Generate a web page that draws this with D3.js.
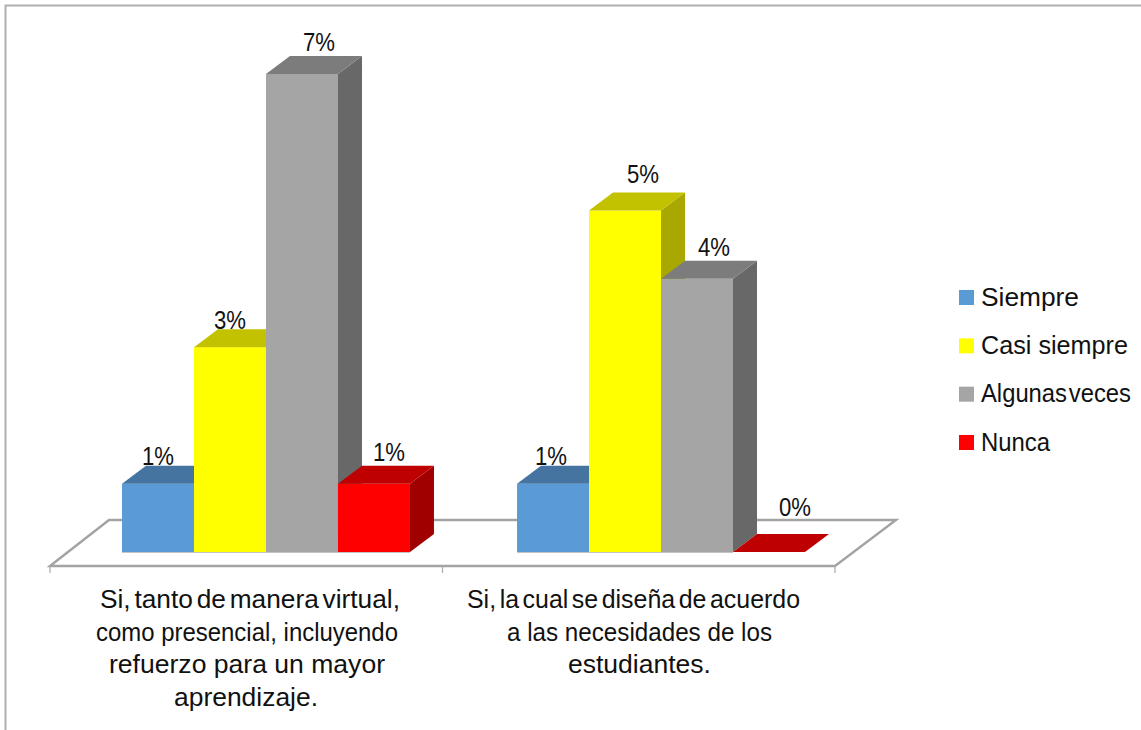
<!DOCTYPE html>
<html><head><meta charset="utf-8">
<script src="https://cdnjs.cloudflare.com/ajax/libs/d3/7.8.5/d3.min.js"></script>
<style>html,body{margin:0;padding:0;background:#fff}svg{display:block}text{font-family:"Liberation Sans",Arial,sans-serif;fill:#111}</style>
</head><body><script>
const categories = ["Si, tanto de manera virtual, como presencial, incluyendo refuerzo para un mayor aprendizaje.", "Si, la cual se diseña de acuerdo a las necesidades de los estudiantes."];
const seriesNames = ["Siempre", "Casi siempre", "Algunas veces", "Nunca"];
const group1Values = [1, 3, 7, 1];
const group2Values = [1, 5, 4, 0];
const seriesValues = [group1Values, group2Values];
const categoryLines = [
  ["Si, tanto de manera virtual,", "como presencial, incluyendo", "refuerzo para un mayor", "aprendizaje."],
  ["Si, la cual se diseña de acuerdo", "a las necesidades de los", "estudiantes."]
];
const frontColors = ["#5b9bd5", "#ffff00", "#a5a5a5", "#ff0000"];
const topColors = ["#44749f", "#c2c200", "#7c7c7c", "#bf0000"];
const sideColors = ["#3b6690", "#a8a800", "#686868", "#a00000"];

// layout tweaks (pixels), kept apart from the data
const lineCenters = [[250, 247, 247, 246], [633.5, 639.5, 639.5]];
const lineWidths = [[300, 302, 276, 144], [333, 265, 143]];
const lineWordSpacing = [[-3.5, 0, 0, 0], [-3.5, 0, 0]];
const legendWidths = [98, 147, 150, 69];
const labelShiftX = [[0, 0, 17, 15], [-2, 18, 17, 26]];
const labelGapY = [[19, 18, 23, 23], [19, 28, 23, 36]];

const W = 1141, H = 730, dx = 24, dy = -18;
const svg = d3.select("body").append("svg").attr("width", W).attr("height", H);

const x0 = d3.scaleBand().domain(categories).range([122, 805]).paddingInner(0.271).paddingOuter(0);
const x1 = d3.scaleBand().domain(seriesNames).range([0, x0.bandwidth()]);
const y = d3.scaleLinear().domain([0, 7]).range([552, 74]);
const tickX = d3.scaleLinear().domain([0, 2]).range([50, 835]);
const legendY = d3.scalePoint().domain(seriesNames).range([297.5, 442.5]);

// chart frame
svg.append("path").attr("d", `M5.5,${H}V5.5H${W}`).attr("fill", "none").attr("stroke", "#b0b0b0").attr("stroke-width", 2);

// floor
const floorFront = 566, floorBack = 520;
svg.append("path")
  .attr("d", `M${tickX(0)},${floorFront}L109,${floorBack}H896L${tickX(2)},${floorFront}Z`)
  .attr("fill", "#fff").attr("stroke", "#a3a3a3").attr("stroke-width", 2.4).attr("stroke-linejoin", "miter");
svg.append("g").selectAll("line").data(d3.range(3)).join("line")
  .attr("x1", d => tickX(d)).attr("x2", d => tickX(d))
  .attr("y1", floorFront).attr("y2", 573).attr("stroke", "#a9a9a9").attr("stroke-width", 1.2);

// bars
const bars = categories.flatMap((c, i) => seriesNames.map((s, j) => ({c, s, i, j, v: seriesValues[i][j]})));
const gBars = svg.append("g");
bars.forEach(d => {
  const xl = x0(d.c) + x1(d.s), w = x1.bandwidth(), yt = y(d.v), yb = y(0);
  const g = gBars.append("g");
  if (d.v > 0) {
    g.append("rect").attr("x", xl).attr("y", yb - 1).attr("width", w).attr("height", 2).attr("fill", "#c4c4c4");
    g.append("rect").attr("x", xl).attr("y", yt).attr("width", w).attr("height", yb - yt).attr("fill", frontColors[d.j]);
    g.append("path").attr("d", `M${xl + w},${yt}l${dx},${dy}V${yb + dy}l${-dx},${-dy}Z`).attr("fill", sideColors[d.j]);
  }
  g.append("path").attr("d", `M${xl},${yt}h${w}l${dx},${dy}h${-w}Z`).attr("fill", topColors[d.j]);
});

// data labels
svg.append("g").selectAll("text").data(bars).join("text")
  .attr("x", d => x0(d.c) + x1(d.s) + x1.bandwidth() / 2 + labelShiftX[d.i][d.j])
  .attr("y", d => y(d.v) - labelGapY[d.i][d.j])
  .attr("text-anchor", "middle").attr("font-size", 25).attr("textLength", 32).attr("lengthAdjust", "spacingAndGlyphs")
  .text(d => d.v + "%");

// category labels
categoryLines.forEach((lines, i) => {
  svg.append("g").selectAll("text").data(lines).join("text")
    .attr("x", (d, k) => lineCenters[i][k]).attr("y", (d, k) => 608 + k * 32.5)
    .attr("text-anchor", "middle").attr("font-size", 26)
    .attr("textLength", (d, k) => lineWidths[i][k]).attr("lengthAdjust", "spacingAndGlyphs")
    .style("word-spacing", (d, k) => lineWordSpacing[i][k] + "px")
    .text(d => d);
});

// legend
const lg = svg.append("g").selectAll("g").data(seriesNames).join("g")
  .attr("transform", d => `translate(0,${legendY(d)})`);
lg.append("rect").attr("x", 959).attr("y", -7.5).attr("width", 15).attr("height", 15).attr("fill", (d, i) => frontColors[i]);
lg.append("text").attr("x", 981).attr("y", 8).attr("font-size", 25)
  .attr("textLength", (d, i) => legendWidths[i]).attr("lengthAdjust", "spacingAndGlyphs")
  .style("word-spacing", d => d === "Algunas veces" ? "-5px" : "0px").text(d => d);
</script></body></html>
